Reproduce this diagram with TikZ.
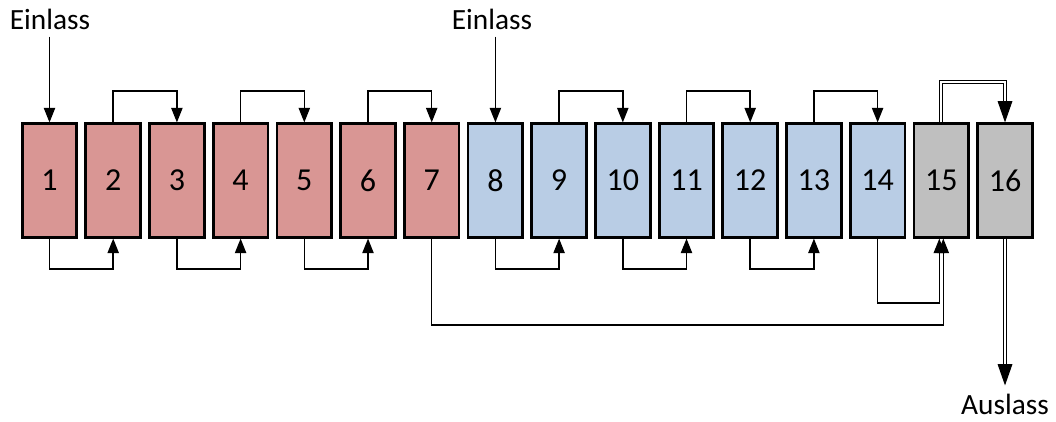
\documentclass[tikz,border=0pt]{standalone}
\usepackage{fontspec}
\setmainfont{Carlito}
\usetikzlibrary{arrows.meta,calc}
\definecolor{rbox}{RGB}{217,150,148}
\definecolor{bbox}{RGB}{185,205,229}
\definecolor{gbox}{RGB}{191,191,191}
\begin{document}
\begin{tikzpicture}[x=0.75pt,y=-0.75pt,
  tank/.style={draw=black,line width=2.1pt,minimum width=41pt,minimum height=85pt,inner sep=0pt,font=\fontsize{24}{27}\selectfont},
  arr/.style={line width=1.1pt,-{Triangle[length=11pt,width=8.5pt]}},
  dbl/.style={double=white,double distance=1.4pt,line width=0.8pt,-{Triangle[length=16pt,width=11pt]}},
  lbl/.style={font=\fontsize{22}{25}\selectfont,inner sep=0pt}]
\useasboundingbox (0,0) rectangle (1056,421);
\foreach \i in {1,...,16}{
  \ifnum\i<8 \def\col{rbox}\else\ifnum\i<15 \def\col{bbox}\else\def\col{gbox}\fi\fi
  \node[tank,fill=\col] (b\i) at ({49.5+(\i-1)*63.7},180.5) {\i};
}
\coordinate (top) at (0,91);
\coordinate (dtop) at (0,82);
\coordinate (bot) at (0,269);
\coordinate (bot2) at (0,303);
\coordinate (bot3) at (0,325);
\node[lbl] (ein1) at (50,19) {Einlass};
\node[lbl] (ein2) at (492,19) {Einlass};
\node[lbl] (aus) at (1005,404) {Auslass};
\draw[arr] ($(ein1.south -| b1.north)+(0,7)$) -- (b1.north);
\draw[arr] ($(ein2.south -| b8.north)+(0,7)$) -- (b8.north);
\foreach \a/\b in {2/3,4/5,6/7,9/10,11/12,13/14}{
  \draw[arr] (b\a.north) -- (b\a.north |- top) -| (b\b.north);
}
\foreach \a/\b in {1/2,3/4,5/6,8/9,10/11,12/13}{
  \draw[arr] (b\a.south) -- (b\a.south |- bot) -| (b\b.south);
}
\draw[arr] (b14.south) -- (b14.south |- bot2) -| ($(b15.south)+(-2,0)$);
\draw[arr] (b7.south) -- (b7.south |- bot3) -| ($(b15.south)+(2,0)$);
\draw[dbl] (b15.north) -- (b15.north |- dtop) -| (b16.north);
\coordinate (out) at ($(aus.north -| b16.south)+(0,-8)$);
\draw[dbl] (b16.south) -- (out);
\end{tikzpicture}
\end{document}
